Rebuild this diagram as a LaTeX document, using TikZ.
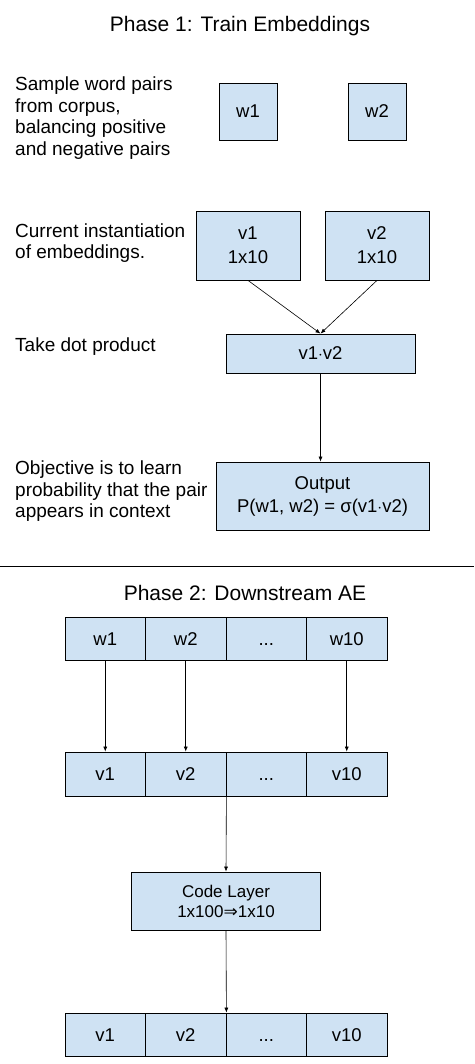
\documentclass[tikz,border=0pt]{standalone}
\usepackage{fontspec}
\setmainfont{Liberation Sans}
\newfontfamily\symfont{DejaVu Sans}
\usetikzlibrary{arrows.meta}
\definecolor{boxblue}{HTML}{CFE2F3}
\newcommand\celldots{...}
\begin{document}
\begin{tikzpicture}
            [x=1pt,y=-1pt,
             box/.style={draw=black,fill=boxblue,line width=0.8pt,inner sep=0pt,align=center,font=\fontsize{18.5}{24}\selectfont},
             cell/.style={box,minimum width=80.5pt,minimum height=43pt,text height=13.3pt,text depth=0pt},
             note/.style={anchor=west,align=left,inner sep=0pt,font=\fontsize{19}{21.5}\selectfont},
             title/.style={inner sep=0pt,font=\fontsize{21}{24}\selectfont},
             line/.style={line width=0.6pt,-{Latex[length=5pt,width=4pt]}}]
            \useasboundingbox (0,0) rectangle (474,1064);
            % phase 1
            \node[title] (t1) at (240,26) {Phase 1: Train Embeddings};
            \node[note] (n1) at (15,118) {Sample word pairs\\from corpus,\\balancing positive\\and negative pairs};
            \node[box,minimum width=58pt,minimum height=57pt] (w1) at (248,111.5) {w1};
            \node[box,minimum width=58pt,minimum height=57pt] (w2) at (377,111.5) {w2};
            \node[note] (n2) at (15,243) {Current instantiation\\of embeddings.};
            \node[box,minimum width=104pt,minimum height=69pt] (v1) at (248,245.5) {v1\\1x10};
            \node[box,minimum width=104pt,minimum height=69pt] (v2) at (377,245.5) {v2\\1x10};
            \node[note] (n3) at (15,347) {Take dot product};
            \node[box,minimum width=189pt,minimum height=39pt] (dot) at (320.5,353.5) {v1$\cdot$v2};
            \node[note] (n4) at (15,491.5) {Objective is to learn\\probability that the pair\\appears in context};
            \node[box,minimum width=213pt,minimum height=68pt,font=\fontsize{18.5}{23}\selectfont] (out) at (322.5,496) {Output\\P(w1, w2) = σ(v1$\cdot$v2)};
            \draw[line] (v1.south) -- (dot.north);
            \draw[line] (v2.south) -- (dot.north);
            \draw[line] (dot.south) -- (dot.south |- out.north);
            \draw[line width=0.8pt] (0,566) -- (474,566);
            % phase 2
            \node[title] (t2) at (245,593) {Phase 2: Downstream AE};
            \foreach \i/\wt/\vt in {1/w1/v1,2/w2/v2,3/\celldots/\celldots,4/w10/v10} {
                \node[cell] (wr\i) at (24.75+80.5*\i,638.5) {\wt};
                \node[cell,minimum height=44pt] (vr\i) at (24.75+80.5*\i,774) {\vt};
                \node[cell] (or\i) at (24.75+80.5*\i,1034.5) {\vt};
            }
            \node[box,minimum width=189pt,minimum height=58pt,font=\fontsize{17}{20}\selectfont] (code) at (226,901) {Code Layer\\1x100{\symfont ⇒}1x10};
            \foreach \i in {1,2,4}
                \draw[line] (wr\i.south) -- (vr\i.north);
            \draw[line] (vr2.south east) -- (code.north);
            \draw[line] (code.south) -- (or2.north east);
        \end{tikzpicture}
\end{document}
